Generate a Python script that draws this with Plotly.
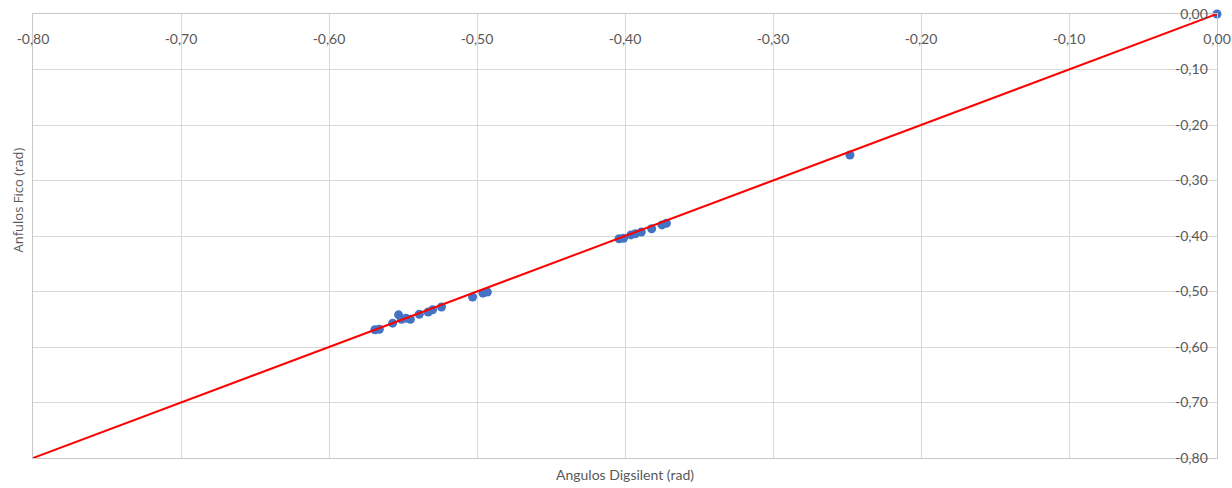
import plotly.graph_objects as go

# Data
x_digsilent = [0.0, -0.248, -0.404, -0.401, -0.396, -0.393, -0.389, -0.382, -0.375, -0.372,
               -0.569, -0.566, -0.557, -0.553, -0.551, -0.548, -0.545, -0.539, -0.533, -0.530,
               -0.524, -0.503, -0.496, -0.493]
y_fico = [0.0, -0.254, -0.405, -0.404, -0.398, -0.396, -0.393, -0.387, -0.380, -0.377,
          -0.569, -0.568, -0.557, -0.542, -0.550, -0.548, -0.550, -0.541, -0.537, -0.533,
          -0.528, -0.510, -0.503, -0.501]
line_x = [-0.80, 0.0]
line_y = [-0.80, 0.0]

tick_vals = [-0.80, -0.70, -0.60, -0.50, -0.40, -0.30, -0.20, -0.10, 0.00]
tick_text = ["-0,80", "-0,70", "-0,60", "-0,50", "-0,40", "-0,30", "-0,20", "-0,10", "0,00"]

x_title = "Angulos Digsilent (rad)"
y_title = "Anfulos Fico (rad)"

tick_font = dict(family="Lato, sans-serif", size=14, color="#595959")

fig = go.Figure()
fig.add_trace(go.Scatter(x=x_digsilent, y=y_fico, mode="markers", cliponaxis=False,
                         marker=dict(color="#4472C4", size=9), showlegend=False))
fig.add_trace(go.Scatter(x=line_x, y=line_y, mode="lines", cliponaxis=False,
                         line=dict(color="#FF0000", width=2), showlegend=False))

axis_common = dict(range=[-0.80, 0.0], tickvals=tick_vals, ticktext=tick_text,
                   ticklabelposition="inside", ticklabeloverflow="allow",
                   tickfont=tick_font, ticks="", automargin=False,
                   showgrid=True, gridcolor="#d9d9d9", gridwidth=1,
                   showline=True, linecolor="#c8c8c8", linewidth=1, mirror=True,
                   zeroline=False, fixedrange=True)

fig.update_layout(
    width=1232, height=488,
    margin=dict(l=33, r=15, t=14, b=30),
    paper_bgcolor="white", plot_bgcolor="white",
    xaxis=dict(side="top", ticklabelstandoff=20, **axis_common),
    yaxis=dict(side="right", ticklabelstandoff=9, **axis_common),
    annotations=[
        dict(text=x_title, xref="paper", yref="paper", x=0.5, y=0, yshift=-16,
             showarrow=False, xanchor="center", yanchor="middle",
             font=dict(family="Lato, sans-serif", size=14, color="#595959")),
        dict(text=y_title, xref="paper", yref="paper", x=0, y=0.58, xshift=-15,
             showarrow=False, textangle=-90, xanchor="center", yanchor="middle",
             font=dict(family="Open Sans, sans-serif", size=13, color="#595959")),
    ],
)

fig.write_html("out.html")
